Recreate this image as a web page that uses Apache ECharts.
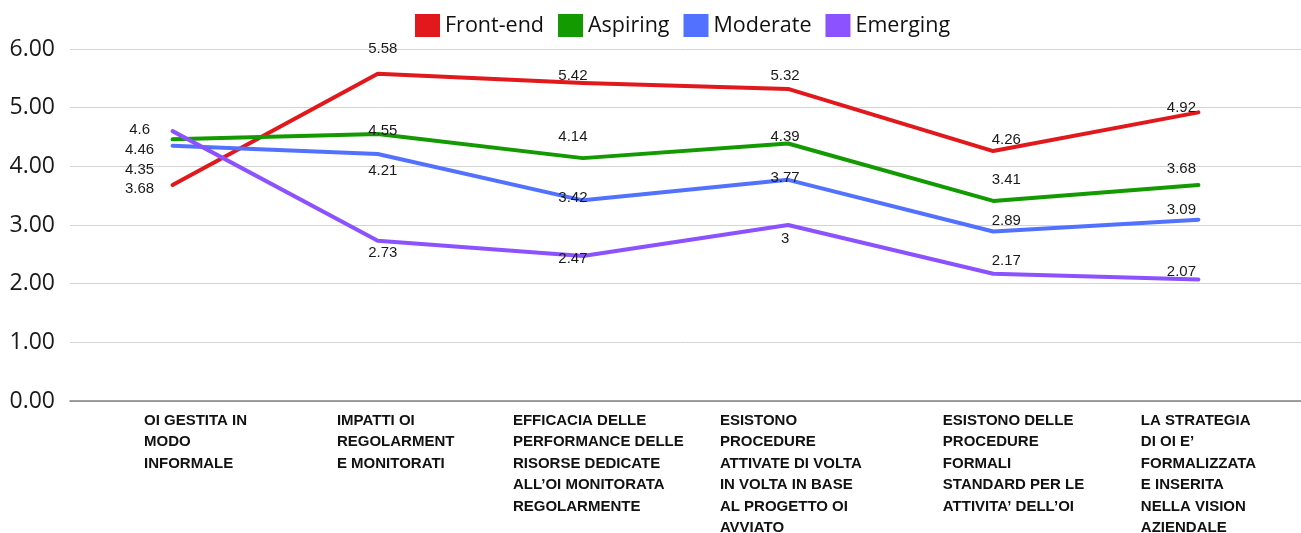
<!DOCTYPE html>
<html>
<head>
<meta charset="utf-8">
<script src="https://cdn.jsdelivr.net/npm/echarts@6/dist/echarts.min.js"></script>
<style>
  html, body { margin: 0; padding: 0; background: #fff; }
  #chart { width: 1301px; height: 533px; }
</style>
</head>
<body>
<div id="chart"></div>
<script>
var categories = [
  'OI GESTITA IN\nMODO\nINFORMALE',
  'IMPATTI OI\nREGOLARMENT\nE MONITORATI',
  'EFFICACIA DELLE\nPERFORMANCE DELLE\nRISORSE DEDICATE\nALL\u2019OI MONITORATA\nREGOLARMENTE',
  'ESISTONO\nPROCEDURE\nATTIVATE DI VOLTA\nIN VOLTA IN BASE\nAL PROGETTO OI\nAVVIATO',
  'ESISTONO DELLE\nPROCEDURE\nFORMALI\nSTANDARD PER LE\nATTIVITA\u2019 DELL\u2019OI',
  'LA STRATEGIA\nDI OI E\u2019\nFORMALIZZATA\nE INSERITA\nNELLA VISION\nAZIENDALE'
];
var seriesNames = ['Front-end', 'Aspiring', 'Moderate', 'Emerging'];
var frontEnd = [3.68, 5.58, 5.42, 5.32, 4.26, 4.92];
var aspiring = [4.46, 4.55, 4.14, 4.39, 3.41, 3.68];
var moderate = [4.35, 4.21, 3.42, 3.77, 2.89, 3.09];
var emerging = [4.6, 2.73, 2.47, 3, 2.17, 2.07];
var yTicks = [0, 1, 2, 3, 4, 5, 6];

var colors = ['#E1181C', '#129A00', '#5271FF', '#8C52FF'];

// where each value label sits relative to its point [dx, dy]
var labelShift = [
  [[-33, 4], [5, -25], [-10, -7], [-3, -13], [13, -11], [-17, -5]],
  [[-33, 11], [5, -3], [-10, -21], [-3, -7], [13, -21], [-17, -16]],
  [[-33, 24], [5, 17], [-10, -3], [-3, -2], [13, -11], [-17, -10]],
  [[-33, -1], [5, 12], [-10, 3], [-3, 14], [13, -13], [-17, -8]]
];
// left edge of each axis label relative to the category centre
var xLabelShift = [-28.6, -40.8, -70, -68.2, -50.4, -57.6];

var chart = echarts.init(document.getElementById('chart'), null, {renderer: 'canvas'});

var rich = {};
xLabelShift.forEach(function (s, i) {
  rich['c' + i] = {
    width: Math.abs(s) * 2,
    align: 'left',
    lineHeight: 21.5,
    fontFamily: 'Liberation Sans',
    fontWeight: 'bold',
    fontSize: 15,
    color: '#111'
  };
});

var allValues = [frontEnd, aspiring, moderate, emerging];
var series = allValues.map(function (vals, s) {
  return {
    name: seriesNames[s],
    type: 'line',
    symbol: 'circle',
    symbolSize: 1,
    itemStyle: {color: colors[s]},
    lineStyle: {width: 4, color: colors[s], cap: 'round', join: 'round'},
    label: {
      show: true,
      position: 'inside',
      fontFamily: 'Liberation Sans',
      fontSize: 15,
      color: '#1a1a1a'
    },
    emphasis: {disabled: true},
    data: vals.map(function (v, i) {
      return {value: v, label: {offset: labelShift[s][i]}};
    })
  };
});

chart.setOption({
  animation: false,
  color: colors,
  legend: {
    left: 410,
    top: 9,
    icon: 'rect',
    itemWidth: 25,
    itemHeight: 23,
    itemGap: 14,
    textStyle: {fontFamily: 'Open Sans', fontSize: 21.5, color: '#111'},
    data: seriesNames
  },
  grid: {left: 70, right: 0, top: 49, bottom: 132, outerBoundsMode: 'none'},
  xAxis: {
    type: 'category',
    data: categories,
    boundaryGap: true,
    axisLine: {lineStyle: {color: '#808080', width: 1.5}},
    axisTick: {show: false},
    axisLabel: {
      interval: 0,
      margin: 9,
      align: 'center',
      verticalAlign: 'top',
      formatter: function (value, idx) {
        return value.split('\n').map(function (line) {
          return '{c' + idx + '|' + line + '}';
        }).join('\n');
      },
      rich: rich
    }
  },
  yAxis: {
    type: 'value',
    min: yTicks[0],
    max: yTicks[yTicks.length - 1],
    interval: 1,
    axisLine: {show: false},
    axisTick: {show: false},
    splitLine: {lineStyle: {color: '#d4d4d4', width: 1}},
    axisLabel: {
      margin: 15,
      fontFamily: 'Open Sans',
      fontSize: 23,
      color: '#1a1a1a',
      formatter: function (v) { return v.toFixed(2); }
    }
  },
  series: series
});
</script>
</body>
</html>
